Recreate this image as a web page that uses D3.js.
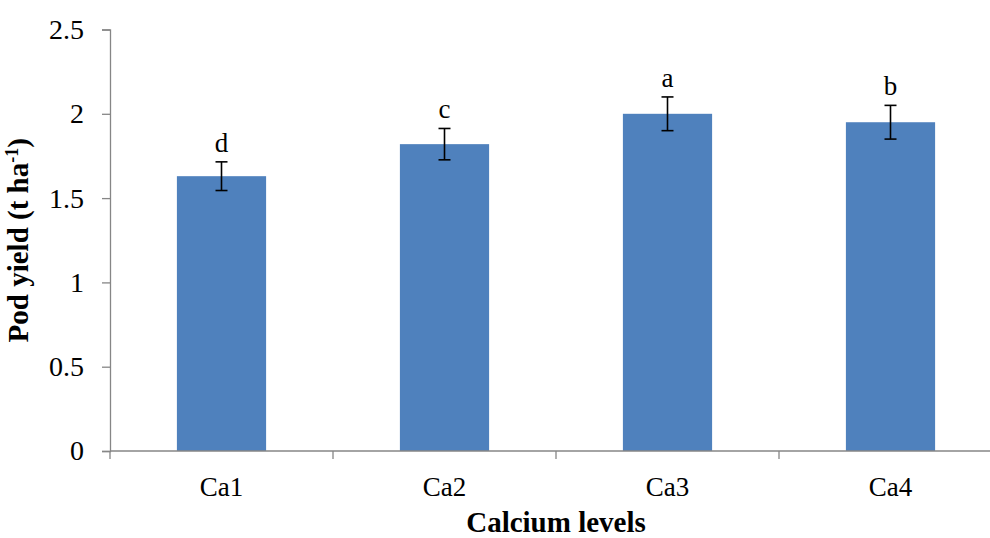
<!DOCTYPE html>
<html>
<head>
<meta charset="utf-8">
<script src="https://cdn.jsdelivr.net/npm/d3@7"></script>
<style>
  html, body { margin: 0; padding: 0; background: #fff; }
  svg { display: block; }
</style>
</head>
<body>
<div id="chart"></div>
<script>
// Pod yield by calcium level, with standard error and significance letters
const categories = ["Ca1", "Ca2", "Ca3", "Ca4"];
const podYield = [1.63, 1.82, 2.00, 1.95];
const errors = [0.085, 0.093, 0.10, 0.10];
const letters = ["d", "c", "a", "b"];
const yTicks = [0, 0.5, 1, 1.5, 2, 2.5];
const yTickLabels = ["0", "0.5", "1", "1.5", "2", "2.5"];

const width = 990, height = 538;
const margin = { top: 29.5, right: -12, bottom: 87, left: 110 };
const serif = "'Liberation Serif', 'Times New Roman', Times, serif";
const axisColor = "#868686";

const svg = d3.select("#chart").append("svg")
  .attr("width", width).attr("height", height);

const innerW = width - margin.left - margin.right;
const innerH = height - margin.top - margin.bottom;

const x = d3.scaleBand().domain(categories).range([0, innerW]).paddingInner(0.6).paddingOuter(0.3);
const xBoundary = d3.scaleBand().domain(categories).range([0, innerW]);
const y = d3.scaleLinear().domain([0, 2.5]).range([innerH, 0]);

const g = svg.append("g").attr("transform", `translate(${margin.left},${margin.top})`);

// bars
g.selectAll("rect.bar").data(categories).join("rect")
  .attr("class", "bar")
  .attr("x", d => x(d))
  .attr("width", x.bandwidth())
  .attr("y", (d, i) => y(podYield[i]))
  .attr("height", (d, i) => innerH - y(podYield[i]))
  .attr("fill", "#4F81BD");

// y axis
const yAxis = g.append("g")
  .call(d3.axisLeft(y).tickValues(yTicks).tickFormat((d, i) => yTickLabels[i]).tickSize(8).tickPadding(18));
yAxis.select(".domain").attr("stroke", axisColor).attr("stroke-width", 1.3);
yAxis.selectAll(".tick line").attr("stroke", axisColor).attr("stroke-width", 1.3);
yAxis.selectAll(".tick text").attr("font-family", serif).attr("font-size", 28).attr("fill", "#000");

// x axis: category boundary ticks, labels centred in each band
const bounds = [0].concat(categories.map(c => xBoundary(c) + xBoundary.bandwidth()));
const xAxisG = g.append("g").attr("transform", `translate(0,${innerH})`);
xAxisG.append("line")
  .attr("x1", 0).attr("x2", innerW).attr("y1", 0).attr("y2", 0)
  .attr("stroke", axisColor).attr("stroke-width", 1.3);
xAxisG.selectAll("line.btick").data(bounds).join("line")
  .attr("class", "btick")
  .attr("x1", d => d).attr("x2", d => d).attr("y1", 0).attr("y2", 8)
  .attr("stroke", axisColor).attr("stroke-width", 1.3);
xAxisG.selectAll("text").data(categories).join("text")
  .attr("x", d => xBoundary(d) + xBoundary.bandwidth() / 2)
  .attr("y", 45)
  .attr("text-anchor", "middle")
  .attr("font-family", serif).attr("font-size", 27).attr("fill", "#000")
  .text(d => d);

// error bars
const cap = 6;
const eb = g.append("g").attr("stroke", "#000").attr("stroke-width", 1.6);
categories.forEach((c, i) => {
  const cx = x(c) + x.bandwidth() / 2;
  const top = y(podYield[i] + errors[i]);
  const bot = y(podYield[i] - errors[i]);
  eb.append("line").attr("x1", cx).attr("x2", cx).attr("y1", top).attr("y2", bot);
  eb.append("line").attr("x1", cx - cap).attr("x2", cx + cap).attr("y1", top).attr("y2", top);
  eb.append("line").attr("x1", cx - cap).attr("x2", cx + cap).attr("y1", bot).attr("y2", bot);
});

// significance letters
g.selectAll("text.sig").data(categories).join("text")
  .attr("class", "sig")
  .attr("x", d => x(d) + x.bandwidth() / 2)
  .attr("y", (d, i) => y(podYield[i] + errors[i]) - 10)
  .attr("text-anchor", "middle")
  .attr("font-family", serif).attr("font-size", 27).attr("fill", "#000")
  .text((d, i) => letters[i]);

// axis titles
svg.append("text")
  .attr("x", margin.left + innerW / 2)
  .attr("y", 532)
  .attr("text-anchor", "middle")
  .attr("font-family", serif).attr("font-size", 29).attr("font-weight", "bold")
  .text("Calcium levels");

const yt = svg.append("text")
  .attr("transform", `translate(28,${margin.top + innerH / 2}) rotate(-90)`)
  .attr("text-anchor", "middle")
  .attr("font-family", serif).attr("font-size", 29).attr("font-weight", "bold");
yt.append("tspan").text("Pod yield (t ha");
yt.append("tspan").attr("font-size", 18).attr("dy", -10).text("-1");
yt.append("tspan").attr("dy", 10).text(")");
</script>
</body>
</html>
